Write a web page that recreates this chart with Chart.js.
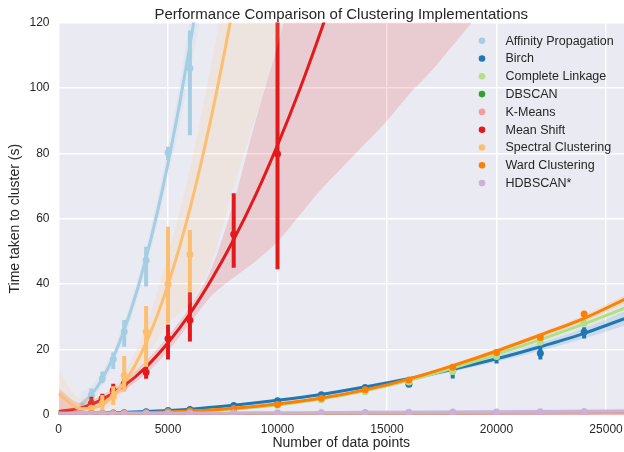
<!DOCTYPE html>
<html>
<head>
<meta charset="utf-8">
<script src="https://cdn.jsdelivr.net/npm/chart.js@4.4.1/dist/chart.umd.min.js"></script>
<style>
  html, body { margin: 0; padding: 0; background: #fff; }
  #wrap { width: 624px; height: 452px; }
</style>
</head>
<body>
<div id="wrap"><canvas id="chart" width="624" height="452"></canvas></div>
<script>
const names = ["Affinity Propagation", "Birch", "Complete Linkage", "DBSCAN", "K-Means",
  "Mean Shift", "Spectral Clustering", "Ward Clustering", "HDBSCAN*"];
const colors = ["#a6cee3", "#1f78b4", "#b2df8a", "#33a02c", "#fb9a99",
  "#e31a1c", "#fdbf6f", "#ff7f00", "#cab2d6"];

const xTicks = [0, 5000, 10000, 15000, 20000, 25000];
const yTicks = [0, 20, 40, 60, 80, 100, 120];

// Affinity Propagation
const affX = [1500, 2000, 2500, 3000, 4000, 5000, 6000];
const affMean = [6, 11, 17, 25.4, 47.3, 80.2, 106];
const affLo = [4, 9.6, 14, 20.8, 39.2, 78, 85.5];
const affHi = [8, 13.2, 19, 29, 51.4, 82, 117.6];
const affFitX = [1000, 1500, 2000, 2500, 3000, 3500, 4000, 4500, 5000, 5500, 6000, 6500];
const affFit = [3, 6.1, 11, 17.6, 26, 36.1, 48, 61.6, 77, 94.1, 113, 133.6];
const affBandLo = [-1, 3.5, 9, 15.5, 23.5, 33.5, 45, 58, 72.5, 88, 105, 122];
const affBandHi = [7, 8.7, 13, 19.7, 28.5, 38.7, 51, 65.5, 81.5, 100, 121, 145];

// Mean Shift
const msX = [1500, 2000, 2500, 3000, 4000, 5000, 6000, 8000, 10000];
const msMean = [3.5, 5, 7.5, 9.5, 13, 23.3, 28.9, 55.2, 79.8];
const msLo = [1.8, 3.4, 5, 7.7, 11, 16.9, 22.4, 45, 44.5];
const msHi = [5.5, 6.4, 9.5, 11, 14.7, 27.6, 37.5, 67.8, 130];
const msFitX = [0, 1000, 2000, 3000, 4000, 5000, 6000, 7000, 8000, 9000, 10000, 11000, 12000, 13000, 14000];
const msFit = [1, 2, 4.7, 8.9, 14.6, 22, 30.9, 41.5, 53.6, 67.2, 82.5, 99.3, 117.8, 137.8, 159.3];
const msBandX = [0, 1000, 2000, 3000, 4000, 5000, 6000, 7000, 8000, 9000, 10000,
  11000, 12000, 13000, 14000, 15000, 16000, 17000, 18000, 19000];
const msBandLo = [-4, 0.5, 3.5, 7.5, 12.5, 19.5, 28, 36.5, 42, 47, 53, 61, 69, 76, 83, 90, 98, 105, 113, 121];
const msBandHi = [8, 3.5, 6, 10.5, 16.5, 24, 33, 45, 65, 90, 113, 138, 165, 195, 225, 255, 290, 325, 360, 400];

// Spectral Clustering
const specX = [1500, 2000, 2500, 3000, 4000, 5000, 6000];
const specMean = [2, 3.5, 5.5, 12, 25.4, 40, 49];
const specLo = [1, 1.4, 3, 7, 14.7, 28, 37.7];
const specHi = [3, 6, 8.7, 18, 33.3, 57.5, 56.5];
const specFitX = [0, 1000, 2000, 3000, 4000, 5000, 6000, 7000, 8000, 9000, 10000, 11000];
const specFit = [6.5, 1.8, 3, 9.8, 22, 39.8, 63, 91.8, 126, 166, 211, 262];
const specBandLo = [0.5, -1.5, 1, 7, 17, 28, 34, 47, 70, 91, 113, 135];
const specBandHi = [13.5, 5, 5.5, 13, 27, 49, 75, 108, 145, 190, 240, 295];

// the fast algorithms share the same dataset sizes and fit grid
const sizes = [1000, 1500, 2000, 2500, 3000, 4000, 5000, 6000, 8000, 10000,
  12000, 14000, 16000, 18000, 20000, 22000, 24000];
const fitX = [0, 2000, 4000, 6000, 8000, 10000, 12000, 14000, 16000, 18000, 20000, 22000, 24000, 26000];

const birchMean = [0.2, 0.3, 0.4, 0.5, 0.6, 0.9, 1.3, 1.6, 2.8, 4.3, 6.1, 8.3, 9.3, 13.5, 17.8, 18.8, 25.3];
const birchLo = [0.2, 0.3, 0.4, 0.5, 0.6, 0.9, 1.2, 1.5, 2.6, 4.0, 5.8, 7.8, 9.0, 11.1, 15.7, 16.9, 23.3];
const birchHi = [0.2, 0.3, 0.4, 0.5, 0.6, 0.9, 1.4, 1.7, 3.0, 4.6, 6.4, 9.0, 10.0, 15.3, 20.0, 20.5, 26.8];
const birchFit = [0.3, 0.5, 1.0, 1.7, 2.9, 4.4, 6.2, 8.5, 11.0, 13.9, 17.1, 20.8, 24.9, 29.8];
const birchBandLo = [0, 0.3, 0.8, 1.5, 2.7, 4.1, 5.8, 8.0, 10.4, 13.2, 16.2, 19.6, 23.3, 27.6];
const birchBandHi = [0.6, 0.7, 1.2, 1.9, 3.1, 4.7, 6.6, 9.0, 11.6, 14.6, 18.0, 22.0, 26.5, 32.0];

const completeMean = [0.1, 0.15, 0.2, 0.25, 0.3, 0.5, 0.8, 1.0, 1.7, 2.9, 4.6, 7.0, 10.0, 13.2, 17.8, 22.2, 28.0];
const completeFit = [0.5, 0.3, 0.5, 1.0, 1.8, 3.0, 4.8, 7.3, 10.5, 14.3, 18.5, 23.0, 27.8, 33.0];
const completeBandLo = [0.2, 0.1, 0.3, 0.8, 1.6, 2.7, 4.5, 6.9, 10.0, 13.7, 17.8, 22.1, 26.7, 31.5];
const completeBandHi = [0.8, 0.5, 0.7, 1.2, 2.0, 3.3, 5.1, 7.7, 11.0, 14.9, 19.2, 23.9, 28.9, 34.5];

const dbscanMean = [0.02, 0.02, 0.03, 0.03, 0.03, 0.04, 0.05, 0.06, 0.09, 0.12, 0.16, 0.21, 0.27, 0.34, 0.42, 0.51, 0.62];
const dbscanFit = [0.02, 0.03, 0.04, 0.06, 0.09, 0.12, 0.16, 0.21, 0.27, 0.34, 0.42, 0.51, 0.62, 0.74];

const kmeansMean = [0.1, 0.1, 0.12, 0.12, 0.13, 0.14, 0.15, 0.16, 0.18, 0.19, 0.2, 0.21, 0.22, 0.23, 0.24, 0.25, 0.26];
const kmeansFit = [0.15, 0.15, 0.16, 0.17, 0.18, 0.19, 0.2, 0.21, 0.22, 0.23, 0.24, 0.25, 0.26, 0.27];

const wardMean = [0.3, 0.35, 0.4, 0.45, 0.5, 0.6, 0.8, 1.1, 1.9, 3.1, 5.0, 7.6, 10.6, 14.5, 19.0, 23.6, 30.8];
const wardFit = [0.6, 0.4, 0.6, 1.1, 2.0, 3.3, 5.1, 7.6, 10.9, 15.0, 19.5, 24.4, 29.5, 35.8];
const wardBandLo = [0.3, 0.2, 0.4, 0.9, 1.8, 3.1, 4.9, 7.3, 10.5, 14.5, 18.9, 23.7, 28.6, 34.6];
const wardBandHi = [0.9, 0.6, 0.8, 1.3, 2.2, 3.5, 5.3, 7.9, 11.3, 15.5, 20.1, 25.1, 30.4, 37.0];

const hdbMean = [0.2, 0.25, 0.3, 0.3, 0.35, 0.4, 0.45, 0.5, 0.55, 0.6, 0.65, 0.7, 0.75, 0.8, 0.85, 0.9, 0.95];
const hdbFit = [0.4, 0.42, 0.45, 0.5, 0.55, 0.6, 0.66, 0.72, 0.78, 0.85, 0.92, 1.0, 1.08, 1.16];
const hdbBandLo = [0.05, 0.1, 0.15, 0.2, 0.25, 0.3, 0.35, 0.4, 0.45, 0.5, 0.55, 0.6, 0.65, 0.7];
const hdbBandHi = [0.9, 0.85, 0.85, 0.9, 0.95, 1.0, 1.1, 1.2, 1.3, 1.4, 1.5, 1.6, 1.75, 1.9];

const series = [
  { px: affX, mean: affMean, lo: affLo, hi: affHi, fx: affFitX, fit: affFit, bx: affFitX, bLo: affBandLo, bHi: affBandHi },
  { px: sizes, mean: birchMean, lo: birchLo, hi: birchHi, fx: fitX, fit: birchFit, bx: fitX, bLo: birchBandLo, bHi: birchBandHi },
  { px: sizes, mean: completeMean, fx: fitX, fit: completeFit, bx: fitX, bLo: completeBandLo, bHi: completeBandHi },
  { px: sizes, mean: dbscanMean, fx: fitX, fit: dbscanFit },
  { px: sizes, mean: kmeansMean, fx: fitX, fit: kmeansFit },
  { px: msX, mean: msMean, lo: msLo, hi: msHi, fx: msFitX, fit: msFit, bx: msBandX, bLo: msBandLo, bHi: msBandHi },
  { px: specX, mean: specMean, lo: specLo, hi: specHi, fx: specFitX, fit: specFit, bx: specFitX, bLo: specBandLo, bHi: specBandHi },
  { px: sizes, mean: wardMean, fx: fitX, fit: wardFit, bx: fitX, bLo: wardBandLo, bHi: wardBandHi },
  { px: sizes, mean: hdbMean, fx: fitX, fit: hdbFit, bx: fitX, bLo: hdbBandLo, bHi: hdbBandHi }
];

function pts(xs, ys) {
  return xs.map((v, i) => ({ x: v, y: ys[i] }));
}

function alpha(hex, a) {
  const n = parseInt(hex.slice(1), 16);
  return `rgba(${n >> 16}, ${(n >> 8) & 255}, ${n & 255}, ${a})`;
}

// seaborn draws each regplot in turn: points + error bars, fit line, ci band
const datasets = [];
let step = 0;
series.forEach((s, k) => {
  const c = colors[k];
  datasets.push({
    type: "scatter", label: names[k], data: pts(s.px, s.mean),
    backgroundColor: c, borderWidth: 0, pointRadius: 3.5,
    errLo: s.lo, errHi: s.hi, order: 1000 - step++
  });
  datasets.push({
    type: "line", data: pts(s.fx, s.fit), borderColor: c, borderWidth: 3,
    pointRadius: 0, fill: false, cubicInterpolationMode: "monotone", order: 1000 - step++
  });
  if (s.bLo) {
    const o = 1000 - step++;
    datasets.push({
      type: "line", data: pts(s.bx, s.bLo), borderColor: "transparent", borderWidth: 0,
      pointRadius: 0, fill: false, cubicInterpolationMode: "monotone", order: o
    });
    datasets.push({
      type: "line", data: pts(s.bx, s.bHi), borderColor: "transparent", borderWidth: 0,
      pointRadius: 0, fill: "-1", backgroundColor: alpha(c, 0.15),
      cubicInterpolationMode: "monotone", order: o
    });
  }
});

const TEXT = "#262626";
const FONT = '"Liberation Sans", Arial, sans-serif';

const background = {
  id: "background",
  beforeDraw(chart) {
    const { ctx, chartArea: a } = chart;
    ctx.save();
    ctx.fillStyle = "#ffffff";
    ctx.fillRect(0, 0, chart.width, chart.height);
    ctx.fillStyle = "#EAEAF2";
    ctx.fillRect(a.left, a.top, a.right - a.left, a.bottom - a.top);
    ctx.restore();
  }
};

const errorBars = {
  id: "errorBars",
  afterDatasetDraw(chart, args) {
    const ds = chart.data.datasets[args.index];
    if (!ds.errLo) return;
    const { ctx, chartArea: a, scales: { x, y } } = chart;
    ctx.save();
    ctx.beginPath();
    ctx.rect(a.left, a.top, a.right - a.left, a.bottom - a.top);
    ctx.clip();
    ctx.strokeStyle = ds.backgroundColor;
    ctx.lineWidth = 4;
    ds.data.forEach((p, i) => {
      const px = x.getPixelForValue(p.x);
      ctx.beginPath();
      ctx.moveTo(px, y.getPixelForValue(ds.errLo[i]));
      ctx.lineTo(px, y.getPixelForValue(ds.errHi[i]));
      ctx.stroke();
    });
    ctx.restore();
  }
};

const titleAndLegend = {
  id: "titleAndLegend",
  afterDraw(chart) {
    const { ctx, chartArea: a } = chart;
    ctx.save();
    ctx.fillStyle = TEXT;
    ctx.font = "15px " + FONT;
    ctx.textAlign = "center";
    ctx.textBaseline = "middle";
    ctx.fillText("Performance Comparison of Clustering Implementations", (a.left + a.right) / 2, 14.5);

    ctx.font = "12.5px " + FONT;
    ctx.textAlign = "left";
    names.forEach((n, i) => {
      const yy = 40.7 + i * 17.8;
      ctx.fillStyle = colors[i];
      ctx.beginPath();
      ctx.arc(482, yy, 3.3, 0, Math.PI * 2);
      ctx.fill();
      ctx.fillStyle = TEXT;
      ctx.fillText(n, 505.5, yy + 0.5);
    });
    ctx.restore();
  }
};

new Chart(document.getElementById("chart"), {
  type: "scatter",
  data: { datasets: datasets },
  options: {
    responsive: false,
    animation: false,
    events: [],
    layout: { autoPadding: false, padding: { top: 22.6, right: 0, left: 0, bottom: 0 } },
    plugins: { legend: { display: false }, tooltip: { enabled: false }, title: { display: false } },
    scales: {
      x: {
        type: "linear", min: 0, max: 25820,
        afterFit(s) { s.height = 37.3; s.paddingRight = 0; s.paddingLeft = 0; },
        afterBuildTicks(s) { s.ticks = xTicks.map(v => ({ value: v })); },
        grid: { color: "#ffffff", lineWidth: 1.4, drawTicks: false },
        border: { display: false },
        ticks: { color: TEXT, font: { family: FONT, size: 12 }, padding: 8, includeBounds: false,
          maxRotation: 0, callback: v => String(v) },
        title: { display: true, text: "Number of data points", color: TEXT,
          font: { family: FONT, size: 14 }, padding: { top: 0, bottom: 0 } }
      },
      y: {
        type: "linear", min: 0, max: 120,
        afterFit(s) { s.width = 58.5; },
        afterBuildTicks(s) { s.ticks = yTicks.map(v => ({ value: v })); },
        grid: { color: "#ffffff", lineWidth: 1.4, drawTicks: false },
        border: { display: false },
        ticks: { color: TEXT, font: { family: FONT, size: 12 }, padding: 9, callback: v => String(v) },
        title: { display: true, text: "Time taken to cluster (s)", color: TEXT,
          font: { family: FONT, size: 14 }, padding: { top: 7, bottom: 0 } }
      }
    }
  },
  plugins: [background, errorBars, titleAndLegend]
});
</script>
</body>
</html>
